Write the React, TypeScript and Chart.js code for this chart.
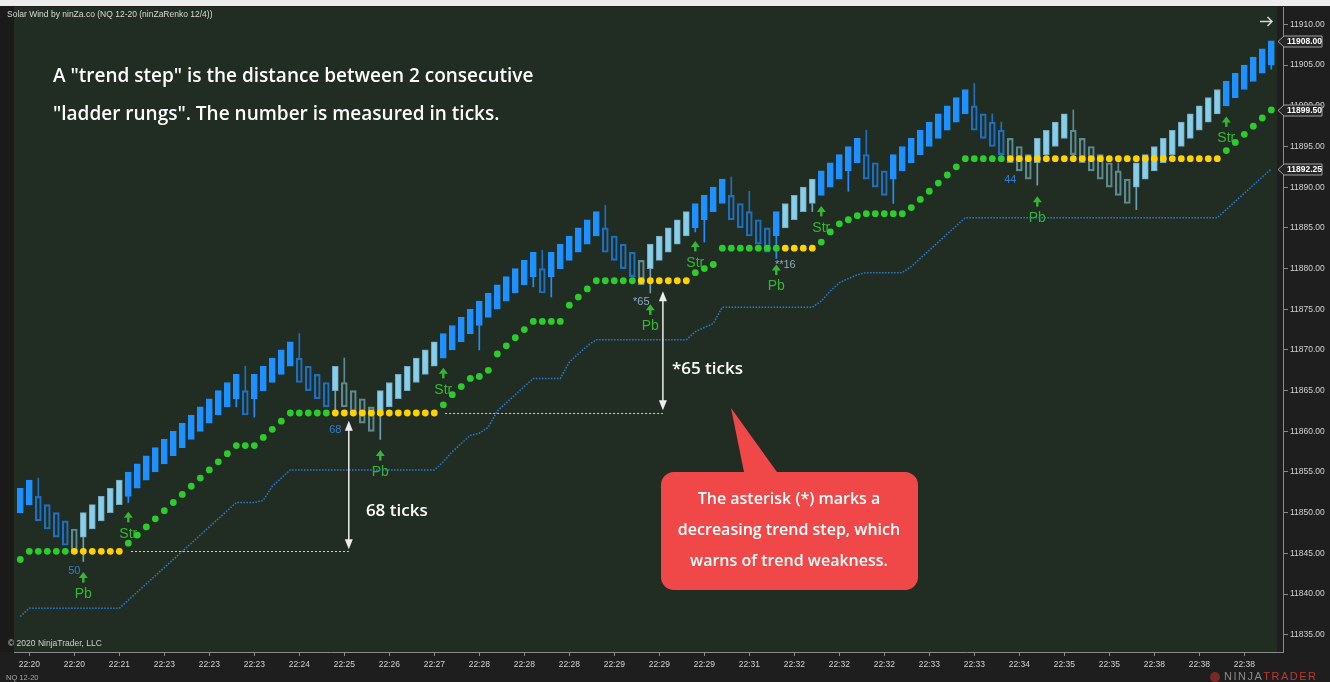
import React, { useEffect, useRef } from 'react';
import { Chart, registerables } from 'chart.js';

Chart.register(...registerables);

// ---------- DATA ----------
const timeLabels = ['22:20', '22:20', '22:21', '22:23', '22:23', '22:23', '22:24', '22:25', '22:26', '22:27', '22:28', '22:28', '22:28', '22:29', '22:29', '22:29', '22:31', '22:32', '22:32', '22:32', '22:33', '22:33', '22:34', '22:35', '22:35', '22:38', '22:38', '22:38'];
const timeLabelBars = [1, 6, 11, 16, 21, 26, 31, 36, 41, 46, 51, 56, 61, 66, 71, 76, 81, 86, 91, 96, 101, 106, 111, 116, 121, 126, 131, 136];

const priceTicks = [11835, 11840, 11845, 11850, 11855, 11860, 11865, 11870, 11875, 11880, 11885, 11890, 11895, 11900, 11905, 11910];

const barOpen = [
  11850, 11851, 11852, 11851, 11850, 11849, 11848, 11847, 11848, 11849,
  11850, 11851, 11852, 11853, 11854, 11855, 11856, 11857, 11858, 11859,
  11860, 11861, 11862, 11863, 11864, 11865, 11864, 11865, 11866, 11867,
  11868, 11869, 11868, 11867, 11866, 11865, 11866, 11865, 11864, 11863,
  11862, 11863, 11864, 11865, 11866, 11867, 11868, 11869, 11870, 11871,
  11872, 11873, 11874, 11875, 11876, 11877, 11878, 11879, 11880, 11879,
  11880, 11881, 11882, 11883, 11884, 11885, 11884, 11883, 11882, 11881,
  11880, 11881, 11882, 11883, 11884, 11885, 11886, 11887, 11888, 11889,
  11888, 11887, 11886, 11885, 11884, 11885, 11886, 11887, 11888, 11889,
  11890, 11891, 11892, 11893, 11894, 11893, 11892, 11891, 11892, 11893,
  11894, 11895, 11896, 11897, 11898, 11899, 11900, 11899, 11898, 11897,
  11896, 11895, 11894, 11893, 11894, 11895, 11896, 11897, 11896, 11895,
  11894, 11893, 11892, 11891, 11890, 11891, 11892, 11893, 11894, 11895,
  11896, 11897, 11898, 11899, 11900, 11901, 11902, 11903, 11904, 11905,
];

const barClose = [
  11853, 11854, 11849, 11848, 11847, 11846, 11845, 11850, 11851, 11852,
  11853, 11854, 11855, 11856, 11857, 11858, 11859, 11860, 11861, 11862,
  11863, 11864, 11865, 11866, 11867, 11862, 11867, 11868, 11869, 11870,
  11871, 11866, 11865, 11864, 11863, 11868, 11863, 11862, 11861, 11860,
  11865, 11866, 11867, 11868, 11869, 11870, 11871, 11872, 11873, 11874,
  11875, 11876, 11877, 11878, 11879, 11880, 11881, 11882, 11877, 11882,
  11883, 11884, 11885, 11886, 11887, 11882, 11881, 11880, 11879, 11878,
  11883, 11884, 11885, 11886, 11887, 11888, 11889, 11890, 11891, 11886,
  11885, 11884, 11883, 11882, 11887, 11888, 11889, 11890, 11891, 11892,
  11893, 11894, 11895, 11896, 11891, 11890, 11889, 11894, 11895, 11896,
  11897, 11898, 11899, 11900, 11901, 11902, 11897, 11896, 11895, 11894,
  11893, 11892, 11891, 11896, 11897, 11898, 11899, 11894, 11893, 11892,
  11891, 11890, 11889, 11888, 11893, 11894, 11895, 11896, 11897, 11898,
  11899, 11900, 11901, 11902, 11903, 11904, 11905, 11906, 11907, 11908,
];

// U = strong up (solid blue), L = up (light blue), D = down (hollow blue), G = down (hollow grey)
const barKinds =
  'UU' + 'DDDD' + 'G' + 'LLLLL' + 'UUUUUUUUUUUUU' + 'D' + 'UUUUU' + 'DDDD' + 'L' + 'GGGG' +
  'LLLLLLL' + 'UUUUUUUUUUU' + 'D' + 'UUUUUU' + 'DDDD' + 'G' + 'LLLLL' + 'UUUU' + 'DDDDD' + 'U' +
  'LLLL' + 'UUUUU' + 'DDD' + 'UUUUUUUUU' + 'DDDD' + 'GGG' + 'LLLL' + 'GGGGGGG' + 'LLLLLLLLLL' + 'UUUUUU';

const upperWickBars = [2, 25, 31, 36, 58, 65, 79, 81, 94, 106, 108, 109, 117, 122];
const upperWickHighs = [11854.25, 11868, 11872, 11869, 11882.25, 11887.75, 11891.25, 11889.5, 11897, 11902.75, 11899, 11898, 11899.5, 11893];
const lowerWickBars = [7, 12, 24, 26, 35, 40, 51, 57, 59, 70, 75, 76, 84, 88, 92, 97, 113, 124, 139];
const lowerWickLows = [11844, 11851.25, 11863, 11861.75, 11862.5, 11859, 11870, 11877.75, 11876.5, 11877, 11884.5, 11883.25, 11881.25, 11887, 11889.5, 11888, 11890.25, 11887.25, 11904.5];

const trendDots = [
  11844.25, 11845.25, 11845.25, 11845.25, 11845.25, 11845.25, 11845.25, 11845.25, 11845.25, 11845.25,
  11845.25, 11845.25, 11846.25, 11847.25, 11848.25, 11849.25, 11850.25, 11851.25, 11852.25, 11853.25,
  11854.25, 11855.25, 11856.25, 11857.25, 11858.25, 11858.25, 11858.25, 11859.25, 11860.25, 11861.25,
  11862.25, 11862.25, 11862.25, 11862.25, 11862.25, 11862.25, 11862.25, 11862.25, 11862.25, 11862.25,
  11862.25, 11862.25, 11862.25, 11862.25, 11862.25, 11862.25, 11862.25, 11863.25, 11864.5, 11865.5,
  11866.5, 11866.75, 11867.5, 11869.5, 11870.5, 11871.5, 11872.5, 11873.5, 11873.5, 11873.5,
  11873.5, 11875.5, 11876.5, 11877.5, 11878.5, 11878.5, 11878.5, 11878.5, 11878.5, 11878.5,
  11878.5, 11878.5, 11878.5, 11878.5, 11878.5, 11879.5, 11880, 11880.5, 11882.5, 11882.5,
  11882.5, 11882.5, 11882.5, 11882.5, 11882.5, 11882.5, 11882.5, 11882.5, 11882.5, 11883.25,
  11884.5, 11885.5, 11886, 11886.5, 11886.75, 11886.75, 11886.75, 11886.75, 11886.75, 11887.5,
  11888.5, 11889.5, 11890.5, 11891.5, 11892.5, 11893.5, 11893.5, 11893.5, 11893.5, 11893.5,
  11893.5, 11893.5, 11893.5, 11893.5, 11893.5, 11893.5, 11893.5, 11893.5, 11893.5, 11893.5,
  11893.5, 11893.5, 11893.5, 11893.5, 11893.5, 11893.5, 11893.5, 11893.5, 11893.5, 11893.5,
  11893.5, 11893.5, 11893.5, 11893.5, 11894.5, 11895.5, 11896.5, 11897.5, 11898.5, 11899.5,
];

// bar ranges where the dots are yellow (trend pause)
const pauseStarts = [6, 35, 69, 85, 110];
const pauseEnds = [11, 46, 74, 88, 133];

const trailLine = [
  11837.25, 11838.25, 11838.25, 11838.25, 11838.25, 11838.25, 11838.25, 11838.25, 11838.25, 11838.25,
  11838.25, 11838.25, 11839.25, 11840.25, 11841.25, 11842.25, 11843.25, 11844.25, 11845.25, 11846.25,
  11847.25, 11848.25, 11849.25, 11850.25, 11851.25, 11851.25, 11851.25, 11851.5, 11853.25, 11854.25,
  11855.25, 11855.25, 11855.25, 11855.25, 11855.25, 11855.25, 11855.25, 11855.25, 11855.25, 11855.25,
  11855.25, 11855.25, 11855.25, 11855.25, 11855.25, 11855.25, 11855.25, 11856.25, 11857.5, 11858.5,
  11859.5, 11859.75, 11860.5, 11862.5, 11863.5, 11864.5, 11865.5, 11866.5, 11866.5, 11866.5,
  11866.5, 11868.5, 11869.5, 11870.5, 11871.25, 11871.25, 11871.25, 11871.25, 11871.25, 11871.25,
  11871.25, 11871.25, 11871.25, 11871.25, 11871.25, 11872.25, 11872.75, 11873.25, 11875.25, 11875.25,
  11875.25, 11875.25, 11875.25, 11875.25, 11875.25, 11875.25, 11875.25, 11875.25, 11875.25, 11876,
  11877.25, 11878.25, 11878.75, 11879.25, 11879.5, 11879.5, 11879.5, 11879.5, 11879.5, 11880.25,
  11881.25, 11882.25, 11883.25, 11884.25, 11885.25, 11886.25, 11886.25, 11886.25, 11886.25, 11886.25,
  11886.25, 11886.25, 11886.25, 11886.25, 11886.25, 11886.25, 11886.25, 11886.25, 11886.25, 11886.25,
  11886.25, 11886.25, 11886.25, 11886.25, 11886.25, 11886.25, 11886.25, 11886.25, 11886.25, 11886.25,
  11886.25, 11886.25, 11886.25, 11886.25, 11887.25, 11888.25, 11889.25, 11890.25, 11891.25, 11892.25,
];

const signalBars = [7, 12, 40, 47, 70, 75, 84, 89, 113, 134];
const signalTexts = ['Pb', 'Str', 'Pb', 'Str', 'Pb', 'Str', 'Pb', 'Str', 'Pb', 'Str'];
const signalPrices = [11842.7, 11850.1, 11857.7, 11867.8, 11875.6, 11883.4, 11880.5, 11887.7, 11888.9, 11898.7];

const stepBars = [6, 35, 69, 85, 110];
const stepTexts = ['50', '68', '*65', '**16', '44'];
const stepPrices = [11842.8, 11860.15, 11875.9, 11880.4, 11890.9];

// ---------- STYLE ----------
const BG = '#1e1e1e';
const PLOT_BG = '#212d22';
const GREEN_DOT = '#2dcc2d';
const YELLOW_DOT = '#ffd200';
const SIGNAL_GREEN = '#33b833';
const AXIS_COLOR = '#8a8a8a';
const TICK_TEXT = '#d2d2d2';
const NARROW = '"Liberation Sans Narrow", "Liberation Sans", Arial, sans-serif';
const SANS = '"Liberation Sans", Arial, sans-serif';
const OPEN = '"Open Sans", "Noto Sans", sans-serif';

const kindFill: Record<string, string> = { U: '#1e90ff', L: '#87ceeb', D: 'rgba(0,0,0,0)', G: 'rgba(0,0,0,0)' };
const kindBorder: Record<string, string> = { U: '#1e90ff', L: '#74a9bf', D: '#1f6fbf', G: '#5d8a90' };
const kindWick: Record<string, string> = { U: '#1e90ff', L: '#6f9fb2', D: '#1f6fbf', G: '#5d8a90' };

function isPause(i: number) {
  for (let k = 0; k < pauseStarts.length; k++) if (i >= pauseStarts[k] && i <= pauseEnds[k]) return true;
  return false;
}

function drawArrowHead(ctx: CanvasRenderingContext2D, x: number, y: number, dir: number) {
  // dir = -1 up, 1 down; (x,y) = tip
  ctx.beginPath();
  ctx.moveTo(x, y);
  ctx.lineTo(x - 4, y - dir * 10);
  ctx.lineTo(x + 4, y - dir * 10);
  ctx.closePath();
  ctx.fill();
}

const overlayPlugin = {
  id: 'overlay',
  beforeDraw(chart: any) {
    const ctx = chart.ctx as CanvasRenderingContext2D;
    ctx.save();
    ctx.fillStyle = BG;
    ctx.fillRect(0, 0, chart.width, chart.height);
    ctx.fillStyle = '#1a1a1a';
    ctx.fillRect(0, 6, 14, 646);
    ctx.fillStyle = '#ececec';
    ctx.fillRect(0, 0, chart.width, 6);
    ctx.fillStyle = PLOT_BG;
    ctx.fillRect(14, 7, 1263, 645);
    ctx.fillStyle = '#d8d8d8';
    ctx.font = `8.5px ${NARROW}`;
    ctx.textBaseline = 'middle';
    ctx.textAlign = 'left';
    ctx.fillText('Solar Wind by ninZa.co (NQ 12-20 (ninZaRenko 12/4))', 7, 15);
    ctx.fillStyle = '#cfcfcf';
    ctx.fillText('\u00A9 2020 NinjaTrader, LLC', 8, 644);
    ctx.fillStyle = '#a8a8a8';
    ctx.font = `7.5px ${NARROW}`;
    ctx.fillText('NQ 12-20', 6, 678);
    ctx.restore();
  },
  beforeDatasetsDraw(chart: any) {
    const ctx = chart.ctx as CanvasRenderingContext2D;
    const xs = chart.scales.x;
    const ys = chart.scales.y;
    ctx.save();
    // signal arrows
    for (let k = 0; k < signalBars.length; k++) {
      const x = xs.getPixelForValue(signalBars[k]);
      const ty = ys.getPixelForValue(signalPrices[k]);
      ctx.fillStyle = SIGNAL_GREEN;
      ctx.beginPath();
      ctx.moveTo(x, ty);
      ctx.lineTo(x + 4.5, ty + 6);
      ctx.lineTo(x - 4.5, ty + 6);
      ctx.closePath();
      ctx.fill();
      ctx.fillRect(x - 1.2, ty + 5.5, 2.4, 5);
      ctx.font = `14px ${SANS}`;
      ctx.textAlign = 'center';
      ctx.textBaseline = 'middle';
      ctx.fillText(signalTexts[k], x, ty + 22);
    }
    // trend step numbers
    for (let k = 0; k < stepBars.length; k++) {
      const x = xs.getPixelForValue(stepBars[k]);
      const y = ys.getPixelForValue(stepPrices[k]);
      ctx.fillStyle = stepTexts[k].startsWith('*') ? '#8fa9c4' : '#2f7fd0';
      ctx.font = `11px ${SANS}`;
      ctx.textAlign = 'center';
      ctx.textBaseline = 'middle';
      ctx.fillText(stepTexts[k], x, y);
    }
    ctx.restore();
  },
  afterDatasetsDraw(chart: any) {
    const ctx = chart.ctx as CanvasRenderingContext2D;
    const xs = chart.scales.x;
    const ys = chart.scales.y;
    ctx.save();
    // dotted reference lines
    ctx.strokeStyle = '#cfcfcf';
    ctx.lineWidth = 1;
    ctx.setLineDash([2, 2]);
    const l1y = Math.round(ys.getPixelForValue(11845.25)) + 0.5;
    ctx.beginPath();
    ctx.moveTo(xs.getPixelForValue(12.3), l1y);
    ctx.lineTo(xs.getPixelForValue(36.5), l1y);
    ctx.stroke();
    const l2y = Math.round(ys.getPixelForValue(11862.25)) + 0.5;
    ctx.beginPath();
    ctx.moveTo(xs.getPixelForValue(47.2), l2y);
    ctx.lineTo(xs.getPixelForValue(71.4), l2y);
    ctx.stroke();
    ctx.setLineDash([]);
    // double arrows
    ctx.strokeStyle = '#ededed';
    ctx.fillStyle = '#ededed';
    ctx.lineWidth = 1.5;
    const arrows = [
      { bar: 36.5, top: 11861.3, bottom: 11845.5 },
      { bar: 71.4, top: 11877.2, bottom: 11862.6 },
    ];
    for (const a of arrows) {
      const x = xs.getPixelForValue(a.bar);
      const yt = ys.getPixelForValue(a.top);
      const yb = ys.getPixelForValue(a.bottom);
      ctx.beginPath();
      ctx.moveTo(x, yt + 8);
      ctx.lineTo(x, yb - 8);
      ctx.stroke();
      drawArrowHead(ctx, x, yt, -1);
      drawArrowHead(ctx, x, yb, 1);
    }
    // measurement texts
    ctx.fillStyle = '#ffffff';
    ctx.font = `600 17px ${OPEN}`;
    ctx.textAlign = 'left';
    ctx.textBaseline = 'middle';
    ctx.fillText('68 ticks', xs.getPixelForValue(38.4), ys.getPixelForValue(11850.2));
    ctx.fillText('*65 ticks', xs.getPixelForValue(72.4), ys.getPixelForValue(11867.65));
    // headline
    ctx.font = `600 19px ${OPEN}`;
    ctx.fillText('A "trend step" is the distance between 2 consecutive', 53, 77);
    ctx.fillText('"ladder rungs". The number is measured in ticks.', 53, 115);
    // callout
    ctx.fillStyle = '#f04848';
    ctx.beginPath();
    const bx = 661, by = 472, bw = 257, bh = 118, r = 13;
    ctx.moveTo(bx + r, by);
    ctx.lineTo(744, by);
    ctx.lineTo(731, 408);
    ctx.lineTo(777, by);
    ctx.lineTo(bx + bw - r, by);
    ctx.arcTo(bx + bw, by, bx + bw, by + r, r);
    ctx.lineTo(bx + bw, by + bh - r);
    ctx.arcTo(bx + bw, by + bh, bx + bw - r, by + bh, r);
    ctx.lineTo(bx + r, by + bh);
    ctx.arcTo(bx, by + bh, bx, by + bh - r, r);
    ctx.lineTo(bx, by + r);
    ctx.arcTo(bx, by, bx + r, by, r);
    ctx.closePath();
    ctx.fill();
    ctx.fillStyle = '#ffffff';
    ctx.font = `600 16px ${OPEN}`;
    ctx.textAlign = 'center';
    ctx.fillText('The asterisk (*) marks a', 789, 499);
    ctx.fillText('decreasing trend step, which', 789, 530);
    ctx.fillText('warns of trend weakness.', 789, 561);
    // top-right arrow
    ctx.strokeStyle = '#d8d8d8';
    ctx.lineWidth = 1.5;
    ctx.beginPath();
    ctx.moveTo(1260, 21.5);
    ctx.lineTo(1272, 21.5);
    ctx.moveTo(1267.5, 17);
    ctx.lineTo(1272, 21.5);
    ctx.lineTo(1267.5, 26);
    ctx.stroke();
    ctx.restore();
  },
  afterDraw(chart: any) {
    const ctx = chart.ctx as CanvasRenderingContext2D;
    const ys = chart.scales.y;
    ctx.save();
    const vals = [barClose[barClose.length - 1], trendDots[trendDots.length - 1], trailLine[trailLine.length - 1]];
    for (const v of vals) {
      const y = Math.round(ys.getPixelForValue(v)) + 0.5;
      ctx.beginPath();
      ctx.moveTo(1278, y);
      ctx.lineTo(1284, y - 5.5);
      ctx.lineTo(1322, y - 5.5);
      ctx.lineTo(1322, y + 5.5);
      ctx.lineTo(1284, y + 5.5);
      ctx.closePath();
      ctx.fillStyle = '#262626';
      ctx.fill();
      ctx.strokeStyle = '#a0a0a0';
      ctx.lineWidth = 1;
      ctx.stroke();
      ctx.fillStyle = '#ffffff';
      ctx.font = `bold 8.5px ${NARROW}`;
      ctx.textAlign = 'left';
      ctx.textBaseline = 'middle';
      ctx.fillText(v.toFixed(2), 1287, y + 0.5);
    }
    // NinjaTrader logo text
    ctx.textBaseline = 'middle';
    ctx.textAlign = 'left';
    ctx.font = `11px ${SANS}`;
    ctx.fillStyle = '#7a2a24';
    ctx.beginPath();
    ctx.arc(1215, 677, 5, 0, Math.PI * 2);
    ctx.fill();
    ctx.fillStyle = '#8a8a8a';
    (ctx as any).letterSpacing = '1.5px';
    ctx.fillText('NINJA', 1224, 677);
    const w = ctx.measureText('NINJA').width;
    ctx.fillStyle = '#b83a30';
    ctx.fillText('TRADER', 1224 + w, 677);
    ctx.restore();
  },
};

export default function App() {
  const canvasRef = useRef<HTMLCanvasElement | null>(null);

  useEffect(() => {
    const canvas = canvasRef.current;
    if (!canvas) return;
    const kinds = barKinds.split('');

    const bodies = barOpen.map((o, i) => ({ x: i, y: [o, barClose[i]] }));
    const upWicks = upperWickBars.map((b, k) => ({ x: b, y: [Math.max(barOpen[b], barClose[b]), upperWickHighs[k]] }));
    const downWicks = lowerWickBars.map((b, k) => ({ x: b, y: [lowerWickLows[k], Math.min(barOpen[b], barClose[b])] }));

    const chart = new Chart(canvas, {
      type: 'bar',
      data: {
        datasets: [
          {
            type: 'line',
            data: trendDots.map((v, i) => ({ x: i, y: v })),
            showLine: false,
            pointRadius: 3.4,
            pointBorderWidth: 0,
            pointBackgroundColor: trendDots.map((_, i) => (isPause(i) ? YELLOW_DOT : GREEN_DOT)),
            order: 0,
          } as any,
          {
            type: 'bar',
            data: bodies as any,
            backgroundColor: kinds.map((k) => kindFill[k]),
            borderColor: kinds.map((k) => kindBorder[k]),
            borderWidth: kinds.map((k) => (k === 'D' || k === 'G' ? 1.5 : 1)),
            borderSkipped: false,
            barThickness: 6,
            grouped: false,
            order: 2,
          } as any,
          {
            type: 'bar',
            data: upWicks as any,
            backgroundColor: upperWickBars.map((b) => kindWick[kinds[b]]),
            borderWidth: 0,
            barThickness: 1,
            grouped: false,
            order: 3,
          } as any,
          {
            type: 'bar',
            data: downWicks as any,
            backgroundColor: lowerWickBars.map((b) => kindWick[kinds[b]]),
            borderWidth: 0,
            barThickness: 1,
            grouped: false,
            order: 3,
          } as any,
          {
            type: 'line',
            data: trailLine.map((v, i) => ({ x: i, y: v })),
            borderColor: '#2b7bd3',
            borderWidth: 1.5,
            borderDash: [1.5, 1.5],
            pointRadius: 0,
            tension: 0,
            fill: false,
            order: 5,
          } as any,
        ],
      },
      options: {
        responsive: false,
        animation: false,
        devicePixelRatio: 1,
        events: [],
        layout: { padding: { left: 14, top: 7, right: 0, bottom: 0 } },
        plugins: { legend: { display: false }, tooltip: { enabled: false } },
        scales: {
          x: {
            type: 'linear',
            min: -0.7,
            max: 140.3,
            offset: false,
            afterBuildTicks: (s: any) => {
              s.ticks = timeLabelBars.map((b) => ({ value: b }));
            },
            afterFit: (s: any) => {
              s.height = 30;
            },
            ticks: {
              autoSkip: false,
              maxRotation: 0,
              minRotation: 0,
              color: TICK_TEXT,
              font: { family: NARROW, size: 8.5 },
              padding: 4,
              callback: (_v: any, index: number) => timeLabels[index] ?? '',
            },
            grid: { display: true, offset: false, drawOnChartArea: false, drawTicks: true, tickLength: 4, color: AXIS_COLOR },
            border: { display: true, color: AXIS_COLOR, width: 1 },
          } as any,
          y: {
            type: 'linear',
            position: 'right',
            min: 11832.88,
            max: 11912.13,
            afterBuildTicks: (s: any) => {
              s.ticks = priceTicks.map((v) => ({ value: v }));
            },
            afterFit: (s: any) => {
              s.width = 47;
            },
            ticks: {
              autoSkip: false,
              color: TICK_TEXT,
              font: { family: NARROW, size: 8.5 },
              padding: 2,
              callback: (v: any) => Number(v).toFixed(2),
            },
            grid: { display: true, drawOnChartArea: false, drawTicks: true, tickLength: 5, color: AXIS_COLOR },
            border: { display: true, color: AXIS_COLOR, width: 1 },
          } as any,
        },
      },
      plugins: [overlayPlugin],
    });

    return () => {
      chart.destroy();
    };
  }, []);

  return (
    <div style={{ position: 'fixed', left: 0, top: 0, width: 1330, height: 682, background: BG }}>
      <canvas ref={canvasRef} width={1330} height={682} style={{ display: 'block', width: 1330, height: 682 }} />
    </div>
  );
}
